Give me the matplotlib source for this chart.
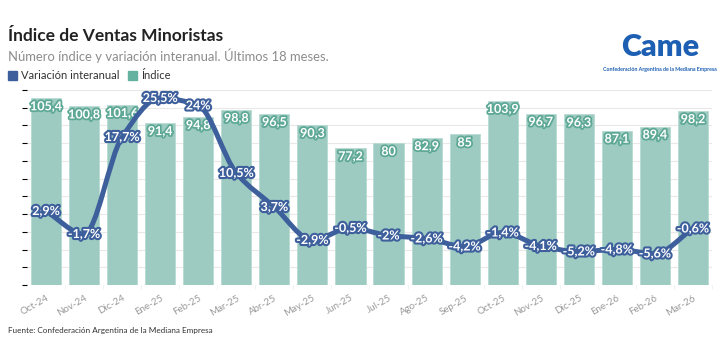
import numpy as np
import matplotlib
matplotlib.use("Agg")
import matplotlib.pyplot as plt
import matplotlib.patheffects as pe
from matplotlib.path import Path
from matplotlib.patches import PathPatch, Rectangle

plt.rcParams['font.family'] = ['Lato', 'DejaVu Sans']

months = ['Oct-24', 'Nov-24', 'Dic-24', 'Ene-25', 'Feb-25', 'Mar-25', 'Abr-25', 'May-25', 'Jun-25',
          'Jul-25', 'Ago-25', 'Sep-25', 'Oct-25', 'Nov-25', 'Dic-25', 'Ene-26', 'Feb-26', 'Mar-26']
indice = [105.4, 100.8, 101.6, 91.4, 94.8, 98.8, 96.5, 90.3, 77.2,
          80, 82.9, 85, 103.9, 96.7, 96.3, 87.1, 89.4, 98.2]
variacion = [2.9, -1.7, 17.7, 25.5, 24, 10.5, 3.7, -2.9, -0.5,
             -2, -2.6, -4.2, -1.4, -4.1, -5.2, -4.8, -5.6, -0.6]

BAR = '#9ecbc1'
BAR_DARK = '#5ea896'
LINE = '#3d5f9c'


def fmt(v):
    return ('%g' % v).replace('.', ',')


def smooth_path(x, y):
    # monotone cubic (Fritsch-Carlson) drawn as bezier segments
    x = np.asarray(x, float)
    y = np.asarray(y, float)
    n = len(x)
    h = np.diff(x)
    d = np.diff(y) / h
    m = np.zeros(n)
    m[0], m[-1] = d[0], d[-1]
    for i in range(1, n - 1):
        if d[i - 1] * d[i] <= 0:
            m[i] = 0
        else:
            m[i] = 2 / (1 / d[i - 1] + 1 / d[i])
    verts = [(x[0], y[0])]
    codes = [Path.MOVETO]
    for i in range(n - 1):
        verts += [(x[i] + h[i] / 3, y[i] + m[i] * h[i] / 3),
                  (x[i + 1] - h[i] / 3, y[i + 1] - m[i + 1] * h[i] / 3),
                  (x[i + 1], y[i + 1])]
        codes += [Path.CURVE4] * 3
    return Path(verts, codes)


fig = plt.figure(figsize=(7.24, 3.41), dpi=100)
ax = fig.add_axes([27 / 724, 1 - 285 / 341, 685 / 724, 195 / 341])
x = np.arange(len(months))

ax.bar(x, indice, width=0.79, color=BAR, edgecolor='#b8dbd2', linewidth=0.6, zorder=2)
ax.set_xlim(-0.5, len(months) - 0.5)
ax.set_ylim(0, 110)
ax.set_yticks(np.arange(0, 111, 10))
ax.yaxis.grid(True, color='#e8e8e8', linewidth=0.8, zorder=0)
ax.set_axisbelow(True)
ax.tick_params(axis='y', left=False, labelleft=False)
ax.set_xticks(x)
ax.set_xticklabels(months, rotation=30, ha='right', rotation_mode='anchor',
                   fontsize=7, color='#999999')
ax.tick_params(axis='x', length=0, pad=6)
ax.set_xticks(x + 0.5, minor=True)
ax.tick_params(axis='x', which='minor', length=3, color='#eeeeee')
for s in ax.spines.values():
    s.set_visible(False)

for xi, v in zip(x, indice):
    ax.text(xi, v - 4.6, fmt(v), ha='center', va='center', fontsize=9, fontweight='bold',
            color='white', zorder=5,
            path_effects=[pe.withStroke(linewidth=2.6, foreground=BAR_DARK)])

ax2 = ax.twinx()
ax2.set_ylim(-11.9, 27.1)
ax2.axis('off')
ax2.add_patch(PathPatch(smooth_path(x, variacion), fill=False, edgecolor=LINE,
                        linewidth=3.6, capstyle='round', joinstyle='round', zorder=3))
for xi, v in zip(x, variacion):
    ax2.text(xi, v, fmt(v) + '%', ha='center', va='center', fontsize=9, fontweight='bold',
             color='white', zorder=6,
             path_effects=[pe.withStroke(linewidth=3, foreground=LINE)])

# header
fig.text(8 / 724, 1 - 36 / 341, 'Índice de Ventas Minoristas', fontsize=12.5,
         fontweight='bold', color='#222222', va='center')
fig.text(8 / 724, 1 - 56 / 341, 'Número índice y variación interanual. Últimos 18 meses.',
         fontsize=9.4, color='#8c8c8c', va='center')
fig.patches.append(Rectangle((8 / 724, 1 - 80 / 341), 9 / 724, 9 / 341,
                             transform=fig.transFigure, color=LINE))
fig.text(21 / 724, 1 - 75.5 / 341, 'Variación interanual', fontsize=8, color='#333333', va='center')
fig.patches.append(Rectangle((128 / 724, 1 - 80 / 341), 9 / 724, 9 / 341,
                             transform=fig.transFigure, color='#66b2a0'))
fig.text(141 / 724, 1 - 75.5 / 341, 'Índice', fontsize=8, color='#333333', va='center')

# logo
fig.text(660 / 724, 1 - 47 / 341, 'Came', fontsize=22, fontweight='heavy', color='#1d5fb3',
         ha='center', va='center')
fig.text(660 / 724, 1 - 70 / 341, 'Confederación Argentina de la Mediana Empresa', fontsize=3.8,
         fontweight='bold', color='#1d5fb3', ha='center', va='center')

fig.text(8 / 724, 1 - 331 / 341, 'Fuente: Confederación Argentina de la Mediana Empresa',
         fontsize=5.9, color='#333333', va='center')

fig.savefig('out.png', dpi=100, facecolor='white')
